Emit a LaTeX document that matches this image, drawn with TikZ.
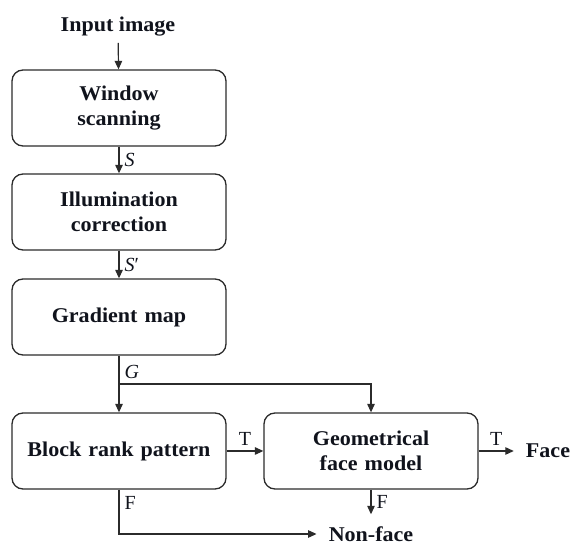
\documentclass[tikz,border=0pt]{standalone}
\usepackage{fontspec}
\setmainfont{Liberation Serif}
\newfontfamily\boxfont{Liberation Serif}[FakeStretch=1.05]
\usetikzlibrary{arrows.meta}
\definecolor{cLine}{HTML}{2B2B2B}
\definecolor{cInk}{HTML}{10131C}
\tikzset{
  stage/.style={draw=cLine, line width=1.3pt, rounded corners=11pt,
    minimum width=214pt, minimum height=76pt, text width=205pt, align=center,
    text=cInk, font=\boxfont\fontsize{21}{25}\selectfont\bfseries},
  term/.style={inner sep=12pt, text=cInk, font=\boxfont\fontsize{21}{24}\selectfont\bfseries},
  arrow/.style={-{Triangle[length=8.5pt,width=7.5pt]}, line width=1.2pt, color=cLine},
  elabel/.style={font=\fontsize{20}{22}\selectfont, text=cInk, inner sep=5pt},
}

\begin{document}
\begin{tikzpicture}[x=1pt,y=-1pt]
  \useasboundingbox (0,0) rectangle (574,545);

  % ---------- input ----------
  \node[term, inner sep=6pt] (in) at (118,27) {Input image};

  % ---------- stages ----------
  \node[stage] (win)  at (119,108) {Window\\scanning};
  \node[stage] (ill)  at (119,212) {Illumination\\correction};
  \node[stage] (grad) at (119,317) {Gradient map};
  \node[stage] (brp)  at (119,451) {Block rank pattern};
  \node[stage] (gfm)  at (371,451) {Geometrical\\face model};

  % ---------- outcomes ----------
  \node[term] (face)    at (548,451) {Face};
  \node[term] (nonface) at (371,534) {Non-face};
  \coordinate (split) at (119,384);

  % ---------- arrows ----------
  \draw[arrow] (in) -- (win);
  \draw[arrow] (win) -- node[elabel, right] {\textit{S}} (ill);
  \draw[arrow] (ill) -- node[elabel, right] {\textit{S}′} (grad);
  \draw[arrow] (grad) -- node[elabel, right, pos=0.29] {\textit{G}} (brp);
  \draw[arrow] (split) -| (gfm.north);
  \draw[arrow] (brp) -- node[elabel, above] {T} (gfm);
  \draw[arrow] (gfm) -- node[elabel, above] {T} (face);
  \draw[arrow] (gfm) -- node[elabel, right] {F} (nonface);
  \draw[arrow] (brp.south) |- node[elabel, right, pos=0.15] {F} (nonface.west);

\end{tikzpicture}
\end{document}
